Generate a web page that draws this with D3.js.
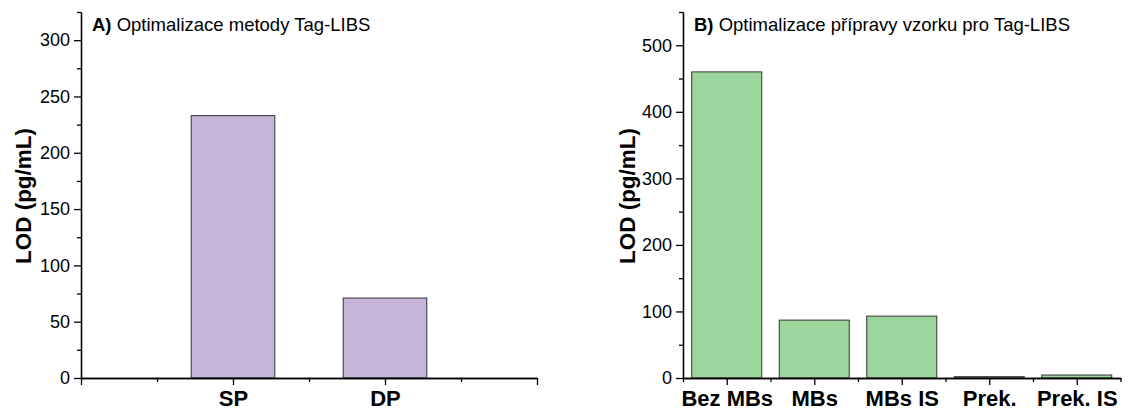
<!doctype html>
<html lang="cs">
<head>
<meta charset="utf-8" />
<title>LOD Tag-LIBS</title>
<script src="https://cdn.jsdelivr.net/npm/d3@7"></script>
<style>
  body { margin: 0; background: #fff; }
  svg { display: block; font-family: "Liberation Sans", Arial, sans-serif; }
  .axis path, .axis line { stroke: #000; stroke-width: 1.3px; }
  .axis text { fill: #000; }
</style>
</head>
<body>
<svg id="chart" width="1143" height="412"></svg>
<script>
// panel A
var catsA = ["SP", "DP"];
var lodA = [233, 71];
var yTicksA = [0, 50, 100, 150, 200, 250, 300];

// panel B
var catsB = ["Bez MBs", "MBs", "MBs IS", "Prek.", "Prek. IS"];
var lodB = [460, 87, 93, 2, 4.5];
var yTicksB = [0, 100, 200, 300, 400, 500];

var svg = d3.select("#chart");

function panel(opt) {
  var g = svg.append("g");
  var x = d3.scaleLinear().domain(opt.xDomain).range(opt.xRange);
  var y = d3.scaleLinear().domain(opt.yDomain).range([378, 12]);

  // bars
  g.selectAll("rect.bar")
    .data(opt.values)
    .enter().append("rect")
    .attr("class", "bar")
    .attr("x", function(d, i) { return x(i + 1 - opt.barW / 2); })
    .attr("width", function() { return x(opt.barW) - x(0); })
    .attr("y", function(d) { return y(d); })
    .attr("height", function(d) { return y(0) - y(d); })
    .attr("fill", opt.color)
    .attr("stroke", "#333")
    .attr("stroke-width", 1);

  // y minor ticks
  g.append("g").attr("class", "axis")
    .attr("transform", "translate(" + opt.xRange[0] + ",0)")
    .call(d3.axisLeft(y).tickValues(opt.yMinor).tickSize(4).tickSizeOuter(0).tickFormat(""));
  // y major
  g.append("g").attr("class", "axis")
    .attr("transform", "translate(" + opt.xRange[0] + ",0)")
    .call(d3.axisLeft(y).tickValues(opt.yTicks).tickSize(7).tickSizeOuter(0).tickPadding(4))
    .selectAll("text").style("font-size", "18px");

  // x minor
  g.append("g").attr("class", "axis")
    .attr("transform", "translate(0,378)")
    .call(d3.axisBottom(x).tickValues(opt.xMinor).tickSize(4).tickSizeOuter(0).tickFormat(""));
  // x major
  g.append("g").attr("class", "axis")
    .attr("transform", "translate(0,378)")
    .call(d3.axisBottom(x).tickValues(opt.xMajor).tickSize(7).tickSizeOuter(0).tickPadding(5)
      .tickFormat(function(v) { return opt.cats[v - 1] || ""; }))
    .selectAll("text").style("font-size", "22px").style("font-weight", "bold");

  // y title
  g.append("text")
    .attr("transform", "translate(" + opt.yLabelX + ",196) rotate(-90)")
    .attr("text-anchor", "middle")
    .style("font-size", "22.5px").style("font-weight", "bold")
    .text("LOD (pg/mL)");

  // panel title
  var t = g.append("text")
    .attr("x", opt.xRange[0] + 11).attr("y", 31)
    .style("font-size", "18.5px");
  t.append("tspan").style("font-weight", "bold").text(opt.tag);
  t.append("tspan").text(" " + opt.title);
}

panel({
  cats: catsA, values: lodA, color: "#c6b5d8",
  xDomain: [0, 3], xRange: [81, 537], barW: 0.55,
  xMajor: [0, 1, 2, 3], xMinor: [0.5, 1.5, 2.5],
  yDomain: [0, 325], yTicks: yTicksA,
  yMinor: d3.range(25, 326, 50),
  yLabelX: 31,
  tag: "A)", title: "Optimalizace metody Tag-LIBS"
});

panel({
  cats: catsB, values: lodB, color: "#9dd69c",
  xDomain: [0.5, 5.5], xRange: [683, 1120.5], barW: 0.8,
  xMajor: [1, 2, 3, 4, 5], xMinor: [0.5, 1.5, 2.5, 3.5, 4.5, 5.5],
  yDomain: [0, 550], yTicks: yTicksB,
  yMinor: d3.range(50, 551, 100),
  yLabelX: 635,
  tag: "B)", title: "Optimalizace přípravy vzorku pro Tag-LIBS"
});
</script>
</body>
</html>
